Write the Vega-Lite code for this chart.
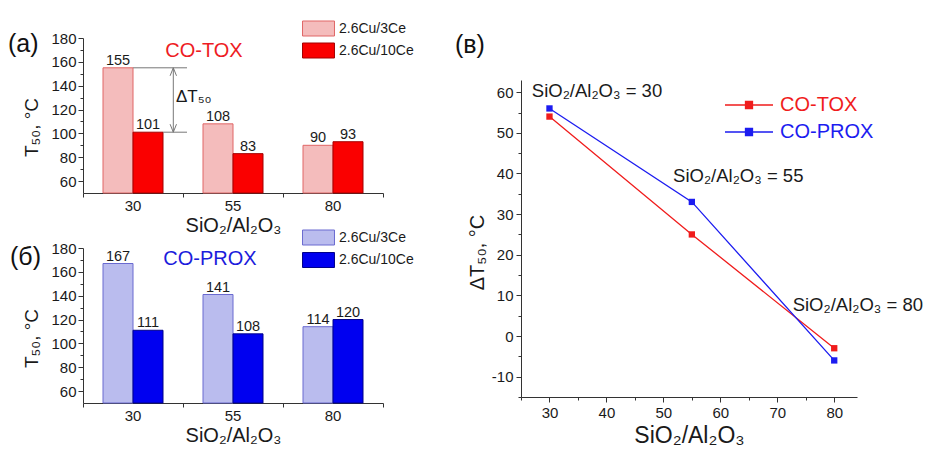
{
 "$schema": "https://vega.github.io/schema/vega-lite/v6.json",
 "padding": {"left": 8, "top": 20, "right": 2, "bottom": 2},
 "background": "white",
 "config": {
  "font": "Liberation Sans",
  "view": {"stroke": null},
  "axis": {"domainColor": "#333", "tickColor": "#333", "labelColor": "#1a1a1a", "titleColor": "#1a1a1a", "titleFontWeight": "normal", "grid": false, "domainWidth": 1, "tickWidth": 1, "labelFont": "Liberation Sans", "titleFont": "Liberation Sans"},
  "legend": {"labelColor": "#1a1a1a", "labelFont": "Liberation Sans"}
 },
 "datasets": {
  "tox": [
   {"ratio": "30", "catalyst": "2.6Cu/3Ce", "T50": 155},
   {"ratio": "30", "catalyst": "2.6Cu/10Ce", "T50": 101},
   {"ratio": "55", "catalyst": "2.6Cu/3Ce", "T50": 108},
   {"ratio": "55", "catalyst": "2.6Cu/10Ce", "T50": 83},
   {"ratio": "80", "catalyst": "2.6Cu/3Ce", "T50": 90},
   {"ratio": "80", "catalyst": "2.6Cu/10Ce", "T50": 93}
  ],
  "prox": [
   {"ratio": "30", "catalyst": "2.6Cu/3Ce", "T50": 167},
   {"ratio": "30", "catalyst": "2.6Cu/10Ce", "T50": 111},
   {"ratio": "55", "catalyst": "2.6Cu/3Ce", "T50": 141},
   {"ratio": "55", "catalyst": "2.6Cu/10Ce", "T50": 108},
   {"ratio": "80", "catalyst": "2.6Cu/3Ce", "T50": 114},
   {"ratio": "80", "catalyst": "2.6Cu/10Ce", "T50": 120}
  ],
  "delta": [
   {"reaction": "CO-TOX", "ratio": 30, "dT": 54},
   {"reaction": "CO-TOX", "ratio": 55, "dT": 25},
   {"reaction": "CO-TOX", "ratio": 80, "dT": -3},
   {"reaction": "CO-PROX", "ratio": 30, "dT": 56},
   {"reaction": "CO-PROX", "ratio": 55, "dT": 33},
   {"reaction": "CO-PROX", "ratio": 80, "dT": -6}
  ]
 },
 "spacing": 39,
 "bounds": "full",
 "resolve": {"scale": {"x": "independent", "y": "independent", "fill": "independent", "stroke": "independent", "color": "independent", "shape": "independent"}},
 "hconcat": [
  {
   "spacing": 55,
   "bounds": "flush",
   "resolve": {"scale": {"x": "independent", "y": "independent", "fill": "independent", "stroke": "independent", "shape": "independent"}},
   "vconcat": [
    {
     "width": 300, "height": 155,
     "resolve": {"scale": {"x": "independent", "xOffset": "independent"}, "axis": {"x": "independent", "y": "independent"}},
     "layer": [
      {
       "data": {"name": "tox"},
       "mark": {"type": "bar", "strokeWidth": 1},
       "encoding": {
        "x": {"field": "ratio", "type": "nominal", "sort": ["30", "55", "80"], "scale": {"paddingInner": 0.4, "paddingOuter": 0.2},
              "axis": {"title": "SiO₂/Al₂O₃", "labelAngle": 0, "ticks": false, "tickSize": 0, "labelPadding": 5, "labelFontSize": 15, "titleFontSize": 20, "titlePadding": 2}},
        "xOffset": {"field": "catalyst", "type": "nominal", "sort": ["2.6Cu/3Ce", "2.6Cu/10Ce"]},
        "y": {"field": "T50", "type": "quantitative", "scale": {"domain": [50, 180], "nice": false, "zero": false},
              "axis": {"title": "T₅₀, °C", "values": [60, 80, 100, 120, 140, 160, 180], "tickSize": 5, "labelFontSize": 15, "labelPadding": 2, "titleFontSize": 19, "titlePadding": 9, "titleY": 89}},
        "y2": {"datum": 50},
        "fill": {"field": "catalyst", "type": "nominal", "scale": {"domain": ["2.6Cu/3Ce", "2.6Cu/10Ce"], "range": ["#f4bcbc", "#fa0000"]},
                 "legend": {"orient": "none", "legendX": 227.5, "legendY": -17.5, "title": null, "symbolType": "M-2.13,-1H2.13V1H-2.13Z", "symbolSize": 225, "symbolStrokeWidth": 1, "labelFontSize": 14, "labelOffset": 12.5, "rowPadding": 2,
                            "encode": {"symbols": {"update": {"stroke": {"signal": "datum.value === '2.6Cu/3Ce' ? '#e06666' : '#a40000'"}, "opacity": {"value": 1}}}}}},
        "stroke": {"field": "catalyst", "type": "nominal", "scale": {"domain": ["2.6Cu/3Ce", "2.6Cu/10Ce"], "range": ["#e06666", "#a40000"]}, "legend": null}
       }
      },
      {
       "data": {"name": "tox"},
       "mark": {"type": "text", "baseline": "alphabetic", "dy": -3, "fontSize": 14.5, "color": "#1a1a1a"},
       "encoding": {
        "x": {"field": "ratio", "type": "nominal", "sort": ["30", "55", "80"], "scale": {"paddingInner": 0.4, "paddingOuter": 0.2}, "axis": null},
        "xOffset": {"field": "catalyst", "type": "nominal", "sort": ["2.6Cu/3Ce", "2.6Cu/10Ce"]},
        "y": {"field": "T50", "type": "quantitative", "axis": null},
        "text": {"field": "T50", "type": "quantitative"}
       }
      },
      {
       "data": {"values": [{"x": 0.5, "x2": 1.04, "y": 155, "y2": 155}, {"x": 0.8, "x2": 1.04, "y": 101, "y2": 101}, {"x": 0.903, "x2": 0.903, "y": 155, "y2": 101}]},
       "mark": {"type": "rule", "color": "#777", "strokeWidth": 1},
       "encoding": {
        "x": {"field": "x", "type": "quantitative", "scale": {"domain": [0, 3], "nice": false, "zero": false}, "axis": {"orient": "bottom", "values": [0, 1, 2, 3], "tickSize": 4, "labels": false, "domain": false, "title": null}},
        "x2": {"field": "x2"},
        "y": {"field": "y", "type": "quantitative", "axis": {"orient": "left", "values": [70, 90, 110, 130, 150, 170], "tickSize": 3, "labels": false, "domain": false, "title": null}},
        "y2": {"field": "y2"}
       }
      },
      {
       "data": {"values": [{"x": 0.903, "y": 155, "end": "top"}, {"x": 0.903, "y": 101, "end": "bottom"}]},
       "mark": {"type": "point", "filled": false, "stroke": "#777", "strokeWidth": 1, "size": 64, "opacity": 1},
       "encoding": {
        "x": {"field": "x", "type": "quantitative", "scale": {"domain": [0, 3], "nice": false, "zero": false}, "axis": null},
        "y": {"field": "y", "type": "quantitative", "axis": null},
        "shape": {"field": "end", "type": "nominal", "scale": {"domain": ["top", "bottom"], "range": ["M-0.8,2L0,0L0.8,2", "M-0.8,-2L0,0L0.8,-2"]}, "legend": null}
       }
      },
      {
       "data": {"values": [{"x": -0.75, "y": 175, "label": "(а)"}]},
       "mark": {"type": "text", "align": "left", "baseline": "middle", "fontSize": 25, "color": "#111"},
       "encoding": {
        "x": {"field": "x", "type": "quantitative", "scale": {"domain": [0, 3], "nice": false, "zero": false}, "axis": null},
        "y": {"field": "y", "type": "quantitative", "axis": null},
        "text": {"field": "label"}
       }
      },
      {
       "data": {"values": [{"x": 1.21, "y": 169.5, "label": "CO-TOX"}]},
       "mark": {"type": "text", "align": "center", "baseline": "middle", "fontSize": 20, "color": "#ee1c24"},
       "encoding": {
        "x": {"field": "x", "type": "quantitative", "scale": {"domain": [0, 3], "nice": false, "zero": false}, "axis": null},
        "y": {"field": "y", "type": "quantitative", "axis": null},
        "text": {"field": "label"}
       }
      },
      {
       "data": {"values": [{"x": 0.93, "y": 130.5, "label": "ΔT₅₀"}]},
       "mark": {"type": "text", "align": "left", "baseline": "middle", "fontSize": 17, "color": "#1a1a1a"},
       "encoding": {
        "x": {"field": "x", "type": "quantitative", "scale": {"domain": [0, 3], "nice": false, "zero": false}, "axis": null},
        "y": {"field": "y", "type": "quantitative", "axis": null},
        "text": {"field": "label"}
       }
      }
     ]
    },
    {
     "width": 300, "height": 155,
     "resolve": {"scale": {"x": "independent", "xOffset": "independent"}, "axis": {"x": "independent", "y": "independent"}},
     "layer": [
      {
       "data": {"name": "prox"},
       "mark": {"type": "bar", "strokeWidth": 1},
       "encoding": {
        "x": {"field": "ratio", "type": "nominal", "sort": ["30", "55", "80"], "scale": {"paddingInner": 0.4, "paddingOuter": 0.2},
              "axis": {"title": "SiO₂/Al₂O₃", "labelAngle": 0, "ticks": false, "tickSize": 0, "labelPadding": 5, "labelFontSize": 15, "titleFontSize": 20, "titlePadding": 2}},
        "xOffset": {"field": "catalyst", "type": "nominal", "sort": ["2.6Cu/3Ce", "2.6Cu/10Ce"]},
        "y": {"field": "T50", "type": "quantitative", "scale": {"domain": [50, 180], "nice": false, "zero": false},
              "axis": {"title": "T₅₀, °C", "values": [60, 80, 100, 120, 140, 160, 180], "tickSize": 5, "labelFontSize": 15, "labelPadding": 2, "titleFontSize": 19, "titlePadding": 9, "titleY": 90}},
        "y2": {"datum": 50},
        "fill": {"field": "catalyst", "type": "nominal", "scale": {"domain": ["2.6Cu/3Ce", "2.6Cu/10Ce"], "range": ["#babcee", "#0000f0"]},
                 "legend": {"orient": "none", "legendX": 227.5, "legendY": -18.5, "title": null, "symbolType": "M-2.13,-1H2.13V1H-2.13Z", "symbolSize": 225, "symbolStrokeWidth": 1, "labelFontSize": 14, "labelOffset": 12.5, "rowPadding": 2.5,
                            "encode": {"symbols": {"update": {"stroke": {"signal": "datum.value === '2.6Cu/3Ce' ? '#6a6ad0' : '#00008a'"}, "opacity": {"value": 1}}}}}},
        "stroke": {"field": "catalyst", "type": "nominal", "scale": {"domain": ["2.6Cu/3Ce", "2.6Cu/10Ce"], "range": ["#6a6ad0", "#00008a"]}, "legend": null}
       }
      },
      {
       "data": {"name": "prox"},
       "mark": {"type": "text", "baseline": "alphabetic", "dy": -3, "fontSize": 14.5, "color": "#1a1a1a"},
       "encoding": {
        "x": {"field": "ratio", "type": "nominal", "sort": ["30", "55", "80"], "scale": {"paddingInner": 0.4, "paddingOuter": 0.2}, "axis": null},
        "xOffset": {"field": "catalyst", "type": "nominal", "sort": ["2.6Cu/3Ce", "2.6Cu/10Ce"]},
        "y": {"field": "T50", "type": "quantitative", "axis": null},
        "text": {"field": "T50", "type": "quantitative"}
       }
      },
      {
       "data": {"values": [{"x": -0.73, "y": 172.5, "label": "(б)"}]},
       "mark": {"type": "text", "align": "left", "baseline": "middle", "fontSize": 25, "color": "#111"},
       "encoding": {
        "x": {"field": "x", "type": "quantitative", "scale": {"domain": [0, 3], "nice": false, "zero": false}, "axis": {"orient": "bottom", "values": [0, 1, 2, 3], "tickSize": 4, "labels": false, "domain": false, "title": null}},
        "y": {"field": "y", "type": "quantitative", "axis": {"orient": "left", "values": [70, 90, 110, 130, 150, 170], "tickSize": 3, "labels": false, "domain": false, "title": null}},
        "text": {"field": "label"}
       }
      },
      {
       "data": {"values": [{"x": 1.27, "y": 170.8, "label": "CO-PROX"}]},
       "mark": {"type": "text", "align": "center", "baseline": "middle", "fontSize": 20, "color": "#1c1cdc"},
       "encoding": {
        "x": {"field": "x", "type": "quantitative", "scale": {"domain": [0, 3], "nice": false, "zero": false}, "axis": null},
        "y": {"field": "y", "type": "quantitative", "axis": null},
        "text": {"field": "label"}
       }
      }
     ]
    }
   ]
  },
  {
   "spacing": 41,
   "bounds": "flush",
   "resolve": {"scale": {"x": "independent", "y": "independent", "color": "independent"}},
   "vconcat": [
    {
     "width": 10, "height": 1,
     "data": {"values": [{"s": 1}]},
     "mark": {"type": "point", "opacity": 0},
     "encoding": {}
    },
    {
     "width": 336, "height": 317,
     "resolve": {"axis": {"x": "independent", "y": "independent"}},
     "layer": [
      {
       "data": {"name": "delta"},
       "mark": {"type": "line", "strokeWidth": 1.3, "point": {"shape": "square", "filled": true, "size": 40}},
       "encoding": {
        "x": {"field": "ratio", "type": "quantitative", "scale": {"domain": [25, 84], "nice": false, "zero": false},
              "axis": {"title": "SiO₂/Al₂O₃", "values": [30, 40, 50, 60, 70, 80], "tickSize": 5, "labelFontSize": 15, "labelPadding": 3, "titleFontSize": 23, "titlePadding": 4}},
        "y": {"field": "dT", "type": "quantitative", "scale": {"domain": [-15, 63], "nice": false, "zero": false},
              "axis": {"title": "ΔT₅₀, °C", "values": [-10, 0, 10, 20, 30, 40, 50, 60], "labelExpr": "datum.value + ''", "tickSize": 5, "labelFontSize": 15, "labelPadding": 3, "titleFontSize": 20, "titlePadding": 4, "titleY": 172}},
        "color": {"field": "reaction", "type": "nominal", "sort": ["CO-TOX", "CO-PROX"], "scale": {"domain": ["CO-TOX", "CO-PROX"], "range": ["#f01c1c", "#1c1cf0"]},
                  "legend": {"orient": "none", "legendX": 218, "legendY": 15, "title": null, "symbolType": "M-3.43,0H3.43M-0.5,-0.5H0.5V0.5H-0.5Z", "symbolSize": 196, "symbolStrokeWidth": 1.3, "labelFontSize": 20, "labelOffset": 21, "rowPadding": 7,
                             "encode": {"symbols": {"update": {"fill": {"signal": "datum.value === 'CO-TOX' ? '#f01c1c' : '#1c1cf0'"}, "stroke": {"signal": "datum.value === 'CO-TOX' ? '#f01c1c' : '#1c1cf0'"}, "opacity": {"value": 1}}},
                                        "labels": {"update": {"fill": {"signal": "datum.value === 'CO-TOX' ? '#f01c1c' : '#1c1cf0'"}}}}}}
       }
      },
      {
       "data": {"name": "delta"},
       "mark": {"type": "point", "opacity": 0},
       "encoding": {
        "x": {"field": "ratio", "type": "quantitative", "axis": {"orient": "bottom", "values": [25, 35, 45, 55, 65, 75], "tickSize": 3, "labels": false, "domain": false, "title": null}},
        "y": {"field": "dT", "type": "quantitative", "axis": {"orient": "left", "values": [-15, -5, 5, 15, 25, 35, 45, 55], "tickSize": 3, "labels": false, "domain": false, "title": null}}
       }
      },
      {
       "data": {"values": [
        {"x": 26.9, "y": 60.2, "label": "SiO₂/Al₂O₃ = 30"},
        {"x": 51.7, "y": 39.4, "label": "SiO₂/Al₂O₃ = 55"},
        {"x": 72.7, "y": 7.6, "label": "SiO₂/Al₂O₃ = 80"}
       ]},
       "mark": {"type": "text", "align": "left", "baseline": "middle", "fontSize": 18.5, "color": "#1a1a1a"},
       "encoding": {
        "x": {"field": "x", "type": "quantitative", "axis": null},
        "y": {"field": "y", "type": "quantitative", "axis": null},
        "text": {"field": "label"}
       }
      },
      {
       "data": {"values": [{"x": 13.4, "y": 71.5, "label": "(в)"}]},
       "mark": {"type": "text", "align": "left", "baseline": "middle", "fontSize": 25, "color": "#111"},
       "encoding": {
        "x": {"field": "x", "type": "quantitative", "axis": null},
        "y": {"field": "y", "type": "quantitative", "axis": null},
        "text": {"field": "label"}
       }
      }
     ]
    }
   ]
  }
 ]
}
